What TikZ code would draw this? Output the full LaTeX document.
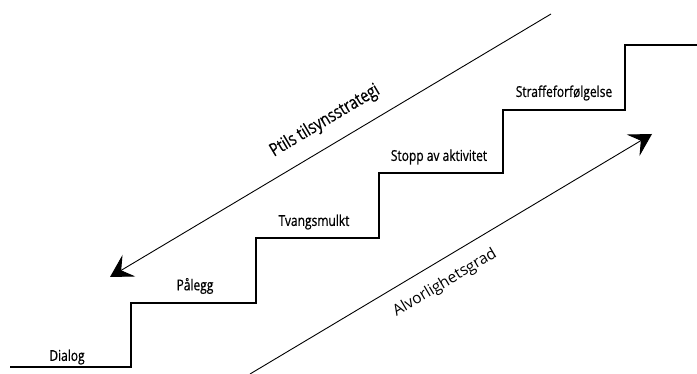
\documentclass[tikz,border=0pt]{standalone}
\usepackage{fontspec}
\usepackage{tikz}
\usetikzlibrary{arrows.meta}
\setmainfont{Open Sans}
\newfontfamily\narrowfont[FakeStretch=0.8,FakeBold=0.6]{Open Sans}

\begin{document}
\begin{tikzpicture}[x=1pt,y=1pt,
  steplabel/.style={font=\narrowfont\fontsize{15}{17}\selectfont},
  sidelabel/.style={font=\narrowfont\fontsize{18}{20}\selectfont},
  trend/.style={black, line width=0.9pt, -{Stealth[length=22pt,width=25pt,inset=9pt]}}]
\useasboundingbox (0,0) rectangle (697,374);
\draw[black, line width=1.5pt] (10,7) -- (131,7) -- (131,71) -- (256,71) -- (256,136)
  -- (379,136) -- (379,201) -- (503,201) -- (503,264) -- (625,264) -- (625,329) -- (697,329);

\node[steplabel] (dialog) at (67,17) {Dialog};
\node[steplabel] (palegg) at (195,88) {Pålegg};
\node[steplabel] (tvang) at (314,152) {Tvangsmulkt};
\node[steplabel] (stopp) at (439,217) {Stopp av aktivitet};
\node[steplabel] (straff) at (564,281) {Straffeforfølgelse};

\coordinate (ptop) at (551,360);
\coordinate (pend) at (110,97);
\draw[trend] (ptop) -- (pend);
\node[sidelabel, rotate=30.8] (ptil) at (325,253) {Ptils tilsynsstrategi};

\coordinate (abot) at (250,0);
\coordinate (aend) at (652,240);
\draw[trend] (abot) -- (aend);
\node[font=\fontsize{15.5}{17}\selectfont, rotate=30.7] (alvor) at (445,91) {Alvorlighetsgrad};
\end{tikzpicture}
\end{document}
